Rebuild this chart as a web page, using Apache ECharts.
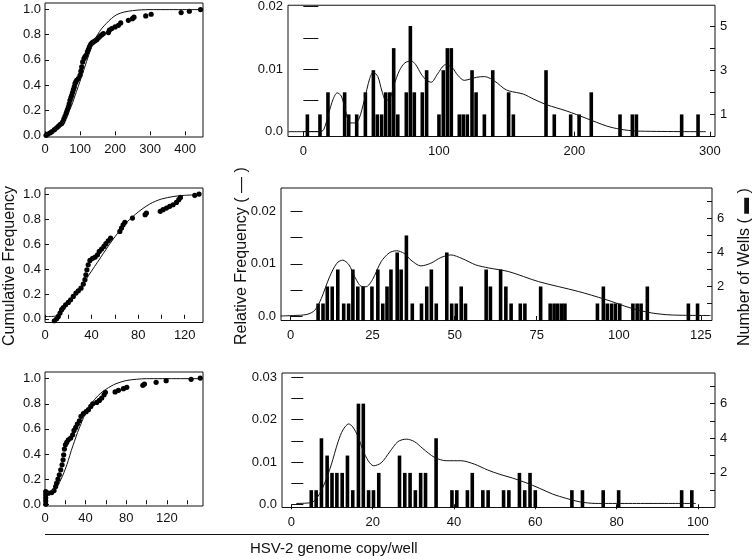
<!DOCTYPE html>
<html><head><meta charset="utf-8">
<script src="https://cdn.jsdelivr.net/npm/echarts@6/dist/echarts.min.js"></script>
<style>html,body{margin:0;padding:0;background:#fff}#c{width:755px;height:559px}</style>
</head><body><div id="c"></div>
<script>
// ---------- Data ----------
// Panel A (top row)
var cdfA_pts = [[3,0.0],[8,0.01],[15,0.02],[20,0.03],[27,0.045],[33,0.06],[38,0.072],[43,0.085],[47.6,0.093],[51,0.11],[54,0.13],[57,0.15],[60,0.17],[61.9,0.186],[64,0.205],[66.7,0.225],[69,0.25],[71.4,0.279],[74,0.3],[76.2,0.318],[78.5,0.34],[81,0.363],[83.5,0.385],[85.7,0.411],[88,0.425],[90.5,0.438],[95.2,0.451],[100,0.477],[102.5,0.51],[104.8,0.544],[107.6,0.584],[111.4,0.61],[114,0.625],[117,0.637],[121,0.663],[124,0.683],[126.7,0.703],[130.5,0.724],[134,0.735],[138,0.743],[143,0.752],[147.6,0.761],[152,0.775],[157,0.788],[162,0.8],[166.7,0.809],[181,0.817],[183.8,0.836],[190.5,0.849],[200,0.862],[209.5,0.875],[216,0.894],[238,0.915],[249.5,0.928],[254,0.94],[287.6,0.95],[303,0.963],[388.6,0.976],[412,0.987],[444,1.0]];
var cdfA_fit = [[0,0.005],[25,0.025],[50,0.09],[60,0.14],[75,0.23],[90,0.35],[100,0.43],[112,0.53],[125,0.64],[137,0.73],[150,0.8],[162,0.85],[175,0.89],[190,0.93],[205,0.96],[225,0.98],[250,0.992],[275,0.998],[300,1.0],[451,1.0]];
var histA = [[3,1],[12.3,1],[18.2,2],[30.5,2],[33.5,1],[39.4,1],[45.8,2],[51.7,3],[54.6,1],[57.8,1],[60.8,2],[63.8,2],[66.7,4],[69.7,1],[76,2],[79,5],[81.9,2],[87.8,2],[91,3],[100.1,1],[103.3,3],[106.3,4],[109.2,4],[115.1,1],[118,1],[121,1],[124.5,3],[127.5,2],[133.6,1],[139.8,3],[151.5,2],[155,1],[179.1,3],[185.2,1],[197.3,1],[203.5,1],[212.5,2],[233.7,1],[242.8,1],[245.8,1],[279.2,1],[291.3,1]];
var densA = [[-11,0],[0,0],[12,0],[15,0.0003],[18.7,0.0029],[22,0.0052],[25,0.0062],[28,0.0057],[31,0.0035],[34.4,0.0014],[38,0.0014],[41,0.002],[45,0.005],[49,0.0085],[51.7,0.0095],[55,0.0088],[58,0.0065],[61,0.005],[64,0.0053],[67,0.0075],[71,0.0098],[75,0.011],[79.6,0.0113],[83,0.0107],[87,0.0092],[91,0.0082],[94.4,0.0079],[99,0.0092],[104.9,0.0107],[110,0.0102],[114,0.009],[118.8,0.0082],[123,0.0084],[128,0.0087],[133.5,0.0088],[138,0.0085],[143,0.0078],[148,0.0069],[152,0.0065],[162.4,0.006],[170,0.0052],[179.6,0.0043],[194.4,0.0033],[209.2,0.0021],[223.9,0.0009],[233.7,0.0004],[246,0.0001],[297,0]];
// Panel B (middle row)
var cdfB_pts = [[8,-0.016],[10,0.0],[11.4,0.019],[12.9,0.046],[14.3,0.073],[15.7,0.091],[17.7,0.113],[20,0.132],[22,0.153],[24.3,0.18],[26.6,0.207],[28.6,0.226],[30.9,0.247],[32.9,0.28],[34.3,0.315],[35.1,0.355],[36,0.395],[37.1,0.435],[38.6,0.47],[40.9,0.487],[43.1,0.497],[45.1,0.516],[46.6,0.543],[48.6,0.562],[50.6,0.583],[52.3,0.605],[54.3,0.629],[56.3,0.65],[64.3,0.704],[65.7,0.731],[67.1,0.758],[68.6,0.777],[75.1,0.812],[86,0.839],[87.1,0.852],[99,0.866],[101.4,0.879],[104.3,0.892],[107.1,0.906],[110,0.919],[112.9,0.938],[114.9,0.96],[116.3,0.978],[128.6,0.995],[132.3,1.005]];
var cdfB_fit = [[0,0.018],[8,0.02],[12,0.04],[16,0.08],[20,0.12],[25,0.18],[30,0.245],[35,0.315],[40,0.385],[45,0.455],[50,0.525],[55,0.595],[60,0.66],[65,0.72],[70,0.775],[75,0.82],[80,0.86],[85,0.895],[90,0.925],[95,0.948],[100,0.965],[110,0.985],[120,0.995],[133,1.0]];
var histB = [[8.4,1],[9.9,1],[11.2,2],[12.7,2],[14.4,3],[16.2,1],[17.7,1],[19,3],[20.5,2],[22.1,2],[24.8,2],[26.6,3],[28.1,1],[29.4,2],[30.6,3],[32.5,4],[33.7,3],[35.3,5],[37.1,1],[39.9,1],[41.5,2],[42.9,3],[44.4,1],[47.6,4],[49.1,1],[50.5,1],[52,2],[53.3,1],[59.6,3],[60.9,2],[64,3],[65.6,2],[67.2,1],[70,1],[71.4,1],[76.2,2],[79.1,1],[80.3,1],[81.4,1],[82.6,1],[83.6,1],[93.5,1],[95.3,2],[96.5,1],[97.8,1],[99,1],[100.3,1],[104.3,1],[105.6,1],[106.8,1],[108.7,2],[121.2,1],[124,1]];
var densB = [[-3,0],[1,0.0001],[5,0.0003],[7.4,0.0011],[9.4,0.0034],[11.9,0.0075],[14.1,0.0101],[15.9,0.0107],[17.8,0.0098],[19.5,0.0076],[21.5,0.0057],[23,0.0056],[25,0.007],[27.6,0.0104],[30.1,0.0121],[32.3,0.0125],[34.6,0.012],[36.7,0.0107],[39.7,0.0096],[42.7,0.0101],[45.8,0.0112],[48.8,0.0117],[52.3,0.011],[56.4,0.0098],[60.4,0.0092],[66.5,0.0085],[75.5,0.0066],[87.7,0.0047],[95.8,0.0032],[103.8,0.0015],[109.9,0.0006],[115.9,0.0002],[128,0.0001]];
// Panel C (bottom row)
var cdfC_pts = [[0.7,0.0],[0.7,0.025],[0.7,0.05],[0.7,0.075],[0.7,0.1],[3.3,0.088],[6.6,0.093],[8.9,0.109],[10.5,0.141],[11.5,0.168],[12.8,0.2],[14.1,0.234],[15.5,0.274],[16.8,0.314],[17.8,0.354],[18.4,0.394],[19.1,0.439],[20.1,0.473],[21.4,0.492],[23,0.513],[25.3,0.527],[27.3,0.553],[28.6,0.588],[30.3,0.612],[31.9,0.638],[33.9,0.665],[35.5,0.7],[37.8,0.721],[40.5,0.737],[42.8,0.753],[45.1,0.779],[47,0.8],[51,0.811],[53.6,0.827],[55.9,0.846],[58.2,0.872],[59.5,0.891],[69.1,0.894],[72.4,0.907],[77.3,0.92],[80.6,0.931],[96.4,0.947],[98,0.957],[109.5,0.971],[119.4,0.984],[144,0.995],[153,1.005]];
var cdfC_fit = [[1,0.09],[5,0.1],[8,0.11],[11,0.13],[14,0.17],[17,0.22],[20,0.28],[23,0.35],[26,0.43],[29,0.5],[32,0.57],[35,0.63],[38,0.69],[41,0.74],[44,0.78],[47,0.815],[50,0.845],[55,0.885],[60,0.915],[65,0.94],[70,0.96],[80,0.985],[90,0.995],[100,1.0],[155,1.0]];
var histC = [[4.9,1],[6.1,1],[7.4,4],[8.8,3],[10,2],[11.2,2],[12.5,2],[13.8,3],[15.1,1],[16.5,6],[17.7,6],[19,1],[20.2,1],[21.5,2],[26.6,3],[27.9,2],[29.2,2],[30.5,1],[31.8,2],[33,2],[35.6,4],[39.5,1],[40.7,1],[43.3,1],[44.5,2],[47.1,1],[48.4,1],[52.2,1],[53.5,1],[56.1,2],[57.4,1],[58.7,2],[60,1],[69,1],[71.6,1],[76.7,1],[80.5,1],[96,1],[98.5,1]];
var densC = [[1.2,0.0002],[4.9,0.0004],[6.5,0.0018],[8.2,0.005],[9.8,0.0093],[11.5,0.0148],[12.7,0.0176],[14.1,0.019],[15.1,0.0183],[16.4,0.016],[17.6,0.0128],[18.9,0.0103],[20.2,0.0091],[22.1,0.0098],[24.2,0.0124],[26.2,0.0148],[28.3,0.0154],[30.3,0.0148],[32.3,0.0132],[35.2,0.0111],[38.1,0.0103],[41.7,0.0103],[45,0.0095],[48.3,0.0081],[51.2,0.0071],[54.4,0.0062],[57.7,0.0051],[61,0.0038],[64.3,0.0024],[67.6,0.0014],[70.8,0.0006],[74.9,0.0002],[99.5,0.0002]];

// Tick / label values
var cdfYTicks = [0,0.2,0.4,0.6,0.8,1.0];
var cdfAXTicks = [0,100,200,300,400];
var cdfBXTicks = [0,20,40,60,80,100,120];
var cdfBXLabels = [0,40,80,120];
var cdfCXTicks = [0,20,40,60,80,100,120,140];
var cdfCXLabels = [0,40,80,120];
var histAXTicks = [0,100,200,300];
var histBXTicks = [0,25,50,75,100,125];
var histCXTicks = [0,20,40,60,80,100];
var relATicks = [0,0.005,0.01,0.015,0.02], relALabels = [0,0.01,0.02];
var relBTicks = [0,0.005,0.01,0.015,0.02], relBLabels = [0,0.01,0.02];
var relCTicks = [0,0.005,0.01,0.015,0.02,0.025,0.03], relCLabels = [0,0.01,0.02,0.03];
var wellATicks = [1,2,3,4,5], wellALabels = [1,3,5];
var wellBTicks = [1,2,3,4,5,6,7], wellBLabels = [2,4,6];
var wellCTicks = [1,2,3,4,5,6,7], wellCLabels = [2,4,6];

// ---------- Chart ----------
var FONT = 'Liberation Sans, Arial, sans-serif';
var chart = echarts.init(document.getElementById('c'), null, {renderer:'canvas'});
var grids = [
  {left:45, top:3, width:158, height:134},
  {left:288, top:5, width:427, height:131.5},
  {left:45, top:188, width:158, height:134.5},
  {left:281, top:188, width:431, height:132.5},
  {left:45, top:372, width:158, height:134},
  {left:282, top:373, width:433, height:134.5}
].map(function(g){ return Object.assign({show:true, borderColor:'#111', borderWidth:1, backgroundColor:'transparent', containLabel:false}, g); });

function lab(vals, fmt, margin){
  return {customValues: vals, formatter: fmt, color:'#111', fontSize:13, fontFamily:FONT, margin: margin, hideOverlap:false};
}
function fmtRel(v){ return v===0 ? '0.0' : String(+v.toFixed(3)); }
function fmtCdf(v){ return v.toFixed(1); }
function fmtInt(v){ return String(Math.round(v)); }

function xAx(gi, min, max, ticks, labels, inside){
  return {type:'value', gridIndex:gi, min:min, max:max, axisLine:{show:false}, splitLine:{show:false},
    axisTick:{show:true, customValues:ticks, inside:inside, length:inside?4:5, lineStyle:{color:'#111'}},
    axisLabel: lab(labels, fmtInt, inside?6:8)};
}
function yAx(gi, min, max, ticks, labels, fmt, pos, len, margin){
  return {type:'value', gridIndex:gi, position:pos, min:min, max:max, axisLine:{show:false}, splitLine:{show:false},
    axisTick:{show:true, customValues:ticks, inside:true, length:len, lineStyle:{color:'#111'}},
    axisLabel: lab(labels, fmt, margin)};
}

var xAxis = [
  xAx(0, 0, 451, cdfAXTicks, cdfAXTicks, true),
  xAx(1, -11.3, 303.8, histAXTicks, histAXTicks, false),
  xAx(2, 0, 135.7, cdfBXTicks, cdfBXLabels, true),
  xAx(3, -2.9, 128.4, histBXTicks, histBXTicks, false),
  xAx(4, 0, 155.7, cdfCXTicks, cdfCXLabels, true),
  xAx(5, -2.3, 104.2, histCXTicks, histCXTicks, false)
];
var yAxis = [
  yAx(0, -0.0135, 1.0525, cdfYTicks, cdfYTicks, fmtCdf, 'left', 4, 4),      //0
  yAx(1, -0.00077, 0.0202, relATicks, relALabels, fmtRel, 'left', 15, 5),   //1
  yAx(1, 0, 5.94, wellATicks, wellALabels, fmtInt, 'right', 5, 5),          //2
  yAx(2, -0.03, 1.054, cdfYTicks, cdfYTicks, fmtCdf, 'left', 4, 4),         //3
  yAx(3, -0.00086, 0.02452, relBTicks, relBLabels, fmtRel, 'left', 12, 5),  //4
  yAx(3, 0, 7.79, wellBTicks, wellBLabels, fmtInt, 'right', 5, 5),          //5
  yAx(4, -0.014, 1.053, cdfYTicks, cdfYTicks, fmtCdf, 'left', 4, 4),        //6
  yAx(5, -0.00076, 0.03104, relCTicks, relCLabels, fmtRel, 'left', 12, 5),  //7
  yAx(5, 0, 7.77, wellCTicks, wellCLabels, fmtInt, 'right', 5, 5)           //8
];

function scat(xi, yi, d){ return {type:'scatter', xAxisIndex:xi, yAxisIndex:yi, data:d, symbolSize:5.2, itemStyle:{color:'#000', opacity:1}, silent:true, z:3}; }
function line(xi, yi, d){ return {type:'line', xAxisIndex:xi, yAxisIndex:yi, data:d, smooth:0.3, showSymbol:false, lineStyle:{color:'#111', width:1}, silent:true, z:4}; }
function bars(xi, yi, d){ return {type:'bar', xAxisIndex:xi, yAxisIndex:yi, data:d, barWidth:3.6, itemStyle:{color:'#000'}, silent:true, z:2}; }

var series = [
  scat(0,0,cdfA_pts), line(0,0,cdfA_fit),
  bars(1,2,histA), line(1,1,densA),
  scat(2,3,cdfB_pts), line(2,3,cdfB_fit),
  bars(3,5,histB), line(3,4,densB),
  scat(4,6,cdfC_pts), line(4,6,cdfC_fit),
  bars(5,8,histC), line(5,7,densC)
];

function vtext(x, y, t, size){
  return {type:'text', x:x, y:y, rotation:Math.PI/2,
    style:{text:t, fill:'#111', font:size + 'px ' + FONT, align:'left', verticalAlign:'middle', textAlign:'left', textVerticalAlign:'middle'}};
}
var graphic = [
  vtext(10, 346, 'Cumulative Frequency', 16),
  vtext(242, 345, 'Relative Frequency ( \u2014 )', 16),
  vtext(745, 346, 'Number of Wells ( \u25AC )', 16),
  {type:'line', shape:{x1:45, y1:534.5, x2:709, y2:534.5}, style:{stroke:'#111', lineWidth:1}},
  {type:'text', x:250, y:549, style:{text:'HSV-2 genome copy/well', fill:'#111', font:'15px ' + FONT, align:'left', verticalAlign:'middle', textAlign:'left', textVerticalAlign:'middle'}}
];

chart.setOption({animation:false, backgroundColor:'#fff', grid:grids, xAxis:xAxis, yAxis:yAxis, series:series, graphic:graphic});
</script></body></html>
